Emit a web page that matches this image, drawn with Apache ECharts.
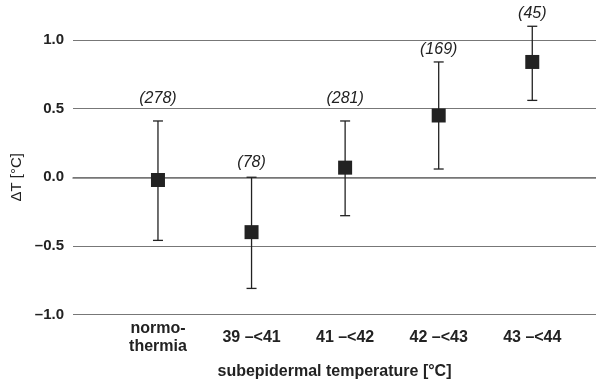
<!DOCTYPE html>
<html>
<head>
<meta charset="utf-8">
<script src="https://cdn.jsdelivr.net/npm/echarts@6/dist/echarts.min.js"></script>
<style>html,body{margin:0;padding:0;background:#fff}#c{width:596px;height:382px}</style>
</head>
<body>
<div id="c"></div>
<script>
const categories = ['normo-\nthermia', '39 \u2013<41', '41 \u2013<42', '42 \u2013<43', '43 \u2013<44'];
const meanValues = [-0.02, -0.40, 0.07, 0.45, 0.84];
const upperValues = [0.41, 0.00, 0.41, 0.84, 1.10];
const lowerValues = [-0.46, -0.81, -0.28, 0.06, 0.56];
const countLabels = ['(278)', '(78)', '(281)', '(169)', '(45)'];
const countLabelY = [0.574, 0.11, 0.574, 0.93, 1.19];
const yTicks = [-1.0, -0.5, 0.0, 0.5, 1.0];

const idx = categories.map((c, i) => i);
const font = 'Liberation Sans, Arial, Helvetica, sans-serif';

const chart = echarts.init(document.getElementById('c'));
chart.setOption({
  animation: false,
  backgroundColor: '#fff',
  grid: { left: 73, right: 0, top: 40, bottom: 67.5, outerBoundsMode: 'none', containLabel: false },
  xAxis: {
    type: 'value',
    min: -0.908,
    max: 4.681,
    name: 'subepidermal temperature [\u00b0C]',
    nameLocation: 'middle',
    nameGap: 49,
    nameTextStyle: { fontFamily: font, fontWeight: 'bold', fontSize: 16, color: '#222' },
    axisLine: { show: true, lineStyle: { color: '#777', width: 1.5 } },
    axisTick: { show: false },
    splitLine: { show: false },
    axisLabel: {
      customValues: idx,
      formatter: v => categories[Math.round(v)] || '',
      fontFamily: font, fontWeight: 'bold', fontSize: 16, color: '#222',
      verticalAlign: 'middle', margin: 23, lineHeight: 18.5
    }
  },
  yAxis: {
    type: 'value',
    min: -1,
    max: 1,
    interval: 0.5,
    name: '\u0394T [\u00b0C]',
    nameLocation: 'middle',
    nameGap: 41,
    nameTextStyle: { fontFamily: font, fontSize: 15, color: '#222' },
    axisLine: { show: false },
    axisTick: { show: false },
    splitLine: { show: true, lineStyle: { color: '#777', width: 1.2 } },
    axisLabel: {
      formatter: v => (v < 0 ? '\u2013' : '') + Math.abs(v).toFixed(1),
      fontFamily: font, fontWeight: 'bold', fontSize: 15, color: '#222', margin: 9
    }
  },
  series: [
    {
      type: 'custom',
      clip: false,
      data: idx.map(i => [i, lowerValues[i], upperValues[i]]),
      renderItem: (params, api) => {
        const x = api.value(0);
        const lo = api.coord([x, api.value(1)]);
        const hi = api.coord([x, api.value(2)]);
        const cap = 5;
        const style = { stroke: '#222', lineWidth: 1.3 };
        return {
          type: 'group',
          children: [
            { type: 'line', shape: { x1: lo[0], y1: lo[1], x2: hi[0], y2: hi[1] }, style },
            { type: 'line', shape: { x1: hi[0] - cap, y1: hi[1], x2: hi[0] + cap, y2: hi[1] }, style },
            { type: 'line', shape: { x1: lo[0] - cap, y1: lo[1], x2: lo[0] + cap, y2: lo[1] }, style }
          ]
        };
      },
      z: 2
    },
    {
      type: 'scatter',
      clip: false,
      symbol: 'rect',
      symbolSize: 14,
      itemStyle: { color: '#222', opacity: 1 },
      data: idx.map(i => [i, meanValues[i]]),
      z: 3
    },
    {
      type: 'custom',
      clip: false,
      data: idx.map(i => [i, countLabelY[i]]),
      renderItem: (params, api) => {
        const p = api.coord([api.value(0), api.value(1)]);
        return {
          type: 'text',
          x: p[0], y: p[1],
          style: {
            text: countLabels[params.dataIndex],
            align: 'center', verticalAlign: 'middle',
            font: 'italic 16px ' + font,
            fill: '#222'
          }
        };
      },
      z: 4
    }
  ]
});
</script>
</body>
</html>
